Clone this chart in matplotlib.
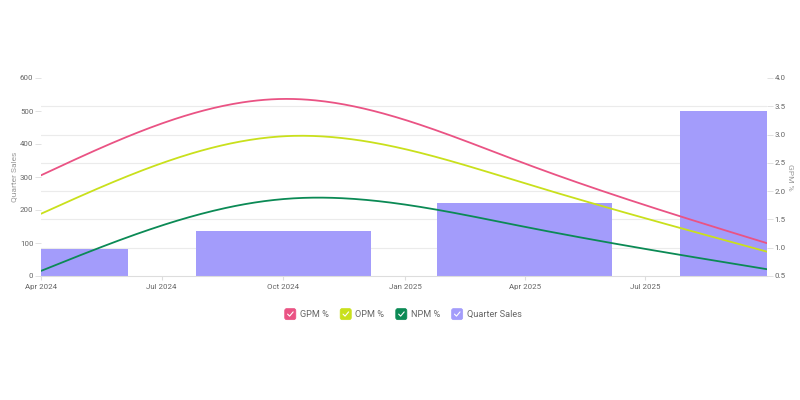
import numpy as np
import matplotlib
matplotlib.use("Agg")
import matplotlib.pyplot as plt
import matplotlib.dates as mdates
from matplotlib.patches import Patch, FancyBboxPatch
from matplotlib.lines import Line2D
from matplotlib.legend_handler import HandlerBase
from matplotlib.ticker import FixedLocator
import datetime as dt

plt.rcParams['font.family'] = ['Roboto', 'DejaVu Sans']

# ---- data ----
dates = ["2024-04-01", "2024-10-01", "2025-04-01", "2025-10-01"]
quarter_sales = [82, 135, 222, 499]
gpm = [2.28, 3.63, 2.49, 1.08]
opm = [1.60, 2.97, 2.14, 0.93]
npm = [0.59, 1.86, 1.37, 0.62]
series_names = ["GPM %", "OPM %", "NPM %", "Quarter Sales"]
colors = ["#ea5384", "#c9e01c", "#0b8a55", "#a39cfb"]

x = mdates.date2num([dt.datetime.fromisoformat(d) for d in dates])


def natural_spline(xs, ys, n=300):
    xs = np.asarray(xs, float); ys = np.asarray(ys, float)
    k = len(xs)
    h = np.diff(xs)
    A = np.zeros((k, k)); b = np.zeros(k)
    A[0, 0] = 1; A[-1, -1] = 1
    for i in range(1, k - 1):
        A[i, i - 1] = h[i - 1]
        A[i, i] = 2 * (h[i - 1] + h[i])
        A[i, i + 1] = h[i]
        b[i] = 6 * ((ys[i + 1] - ys[i]) / h[i] - (ys[i] - ys[i - 1]) / h[i - 1])
    M = np.linalg.solve(A, b)
    xx = np.linspace(xs[0], xs[-1], n)
    yy = np.empty_like(xx)
    for j, xv in enumerate(xx):
        i = min(np.searchsorted(xs, xv, side='right') - 1, k - 2)
        t1 = xs[i + 1] - xv; t0 = xv - xs[i]
        yy[j] = (M[i] * t1 ** 3 + M[i + 1] * t0 ** 3) / (6 * h[i]) \
            + (ys[i] / h[i] - M[i] * h[i] / 6) * t1 \
            + (ys[i + 1] / h[i] - M[i + 1] * h[i] / 6) * t0
    return xx, yy


fig = plt.figure(figsize=(8, 4), dpi=100)
ax = fig.add_axes([0.05125, 0.31, 0.9075, 0.495])
ax2 = ax.twinx()

tick_c = "#666666"
grid_c = "#ebebeb"

# bars
bar_width = 131.5
ax.bar(x, quarter_sales, width=bar_width, color=colors[3], zorder=2)
ax.set_ylim(0, 600)
ax.set_yticks(np.arange(0, 601, 100))

# right axis
ax2.set_ylim(0.5, 4.0)
r_ticks = np.arange(0.5, 4.01, 0.5)
ax2.set_yticks(r_ticks)
# grid aligned to right-axis ticks, drawn behind bars on left axis
ax.set_yticks((r_ticks - 0.5) / 3.5 * 600, minor=True)
ax.grid(True, which='minor', axis='y', color=grid_c, lw=0.8, zorder=0)
ax.tick_params(axis='y', which='minor', length=0)
ax.set_axisbelow(True)

for vals, c in zip([gpm, opm, npm], colors[:3]):
    xx, yy = natural_spline(x, vals)
    ax2.plot(xx, yy, color=c, lw=1.3, solid_capstyle='round')

ax.set_xlim(x[0], x[-1])
loc = mdates.MonthLocator(bymonth=[1, 4, 7, 10])
xt = [t for t in loc.tick_values(mdates.num2date(x[0]), mdates.num2date(x[-1])) if t < x[-1]]
ax.xaxis.set_major_locator(FixedLocator(xt))
ax.xaxis.set_major_formatter(mdates.DateFormatter("%b %Y"))

for a in (ax, ax2):
    for s in ("top", "left", "right"):
        a.spines[s].set_visible(False)
    a.spines["bottom"].set_color("#dddddd")
ax2.spines["bottom"].set_visible(False)

ax.tick_params(axis='y', which='major', labelsize=5.7, labelcolor=tick_c, color="#dddddd",
               length=4, width=0.6, pad=1.5)
ax.tick_params(axis='x', labelsize=5.7, labelcolor=tick_c, color="#dddddd", length=3, pad=3)
ax2.tick_params(axis='y', labelsize=5.7, labelcolor=tick_c, color="#dddddd", length=4,
                width=0.6, pad=1.5)

ax.set_ylabel("Quarter Sales", fontsize=6.0, color="#999999", labelpad=2)
ax2.set_ylabel("GPM %", fontsize=6.0, color="#999999", rotation=270, labelpad=5)


class CheckHandler(HandlerBase):
    def create_artists(self, legend, orig_handle, xdescent, ydescent,
                       width, height, fontsize, trans):
        color = orig_handle.get_facecolor()
        s = 8.0
        x0 = -xdescent + (width - s) / 2
        y0 = -ydescent + (height - s) / 2
        box = FancyBboxPatch((x0, y0), s, s,
                             boxstyle="round,pad=0,rounding_size=1.5",
                             fc=color, ec=color, lw=0.5, transform=trans)
        chk = Line2D([x0 + 0.26 * s, x0 + 0.44 * s, x0 + 0.76 * s],
                     [y0 + 0.50 * s, y0 + 0.32 * s, y0 + 0.70 * s],
                     color="white", lw=0.8, solid_capstyle='round',
                     solid_joinstyle='round', transform=trans)
        return [box, chk]


handles = [Patch(facecolor=c) for c in colors]
leg = fig.legend(handles, series_names, loc='center', bbox_to_anchor=(0.504, 0.214),
                 ncol=4, frameon=False, fontsize=6.6, handlelength=1.15,
                 handleheight=1.15, handletextpad=0.45, columnspacing=1.3,
                 handler_map={Patch: CheckHandler()})
for t in leg.get_texts():
    t.set_color(tick_c)

fig.savefig("out.png", dpi=100)
